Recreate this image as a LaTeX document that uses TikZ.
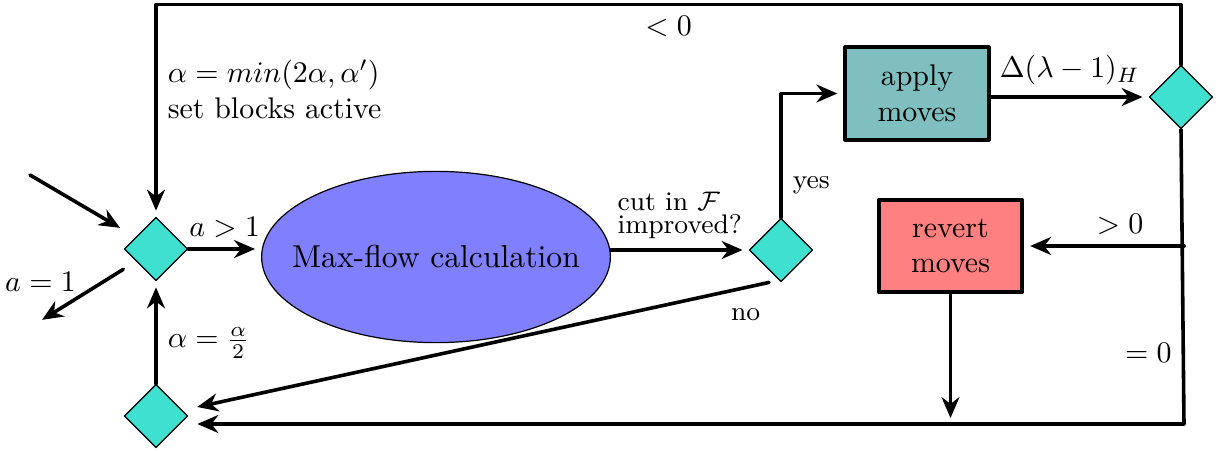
\documentclass[tikz,border=0pt]{standalone}
\usetikzlibrary{shapes.geometric,arrows.meta,calc}
\definecolor{turq}{RGB}{64,224,208}
\begin{document}
\begin{tikzpicture}[x=1.176mm, y=1.176mm, line join=round, line cap=round, >={Stealth[length=7pt,width=6pt]},
	flow/.style={->, line width=1.2pt, shorten >=2pt},
	decision/.style={diamond, draw, thin, fill=turq, inner sep=0pt, minimum size=21.3pt},
	calcnode/.style={ellipse, draw, thin, fill=blue!50, minimum width=116.7pt, minimum height=57.3pt},
	movebox/.style={rectangle, draw, line width=1.3pt, align=center, minimum width=48pt, minimum height=31pt}]
	\useasboundingbox (0,0) rectangle (122.5,45);
	\node[decision] (A) at (15.6,20.1) {};
	\node[decision] (B) at (15.6,3.4) {};
	\node[decision] (C) at (78.1,20.0) {};
	\node[decision] (D) at (118.1,35.3) {};
	\node[calcnode, label={[name=Mtext, font=\fontsize{10.6}{13}\selectfont]center:Max-flow calculation}] (M) at (43.6,19.3) {};
	\node[movebox, fill=teal!50] (apply) at (91.7,35.65) {apply\\moves};
	\node[movebox, fill=red!50] (revert) at (95.05,20.4) {revert\\moves};
	\coordinate (in) at (3.0,27.5);
	\coordinate (out) at (3.7,12.7);
	\coordinate (corner) at (118.4,2.6);
	\draw[flow, shorten >=6pt] (in) -- (A);
	\draw[flow, shorten <=5pt] (A) -- (out) node[pos=0.62, above left, inner sep=2pt, xshift=3pt] (aone) {$a=1$};
	\draw[flow] (A.east) -- (A.east -| M.west) node[midway, above] (agt) {$a>1$};
	\draw[flow] (D.north) -- ++(0,6) -| (A.north) node[pos=0.25, below] (neg) {$<0$}
		node[pos=0.7, right, align=left] (reset) {$\alpha=min(2\alpha,\alpha')$\\set blocks active};
	\draw[flow] (C -| M.east) -- (C.west) node[midway, above, align=left, font=\small] (cut) {cut in $\mathcal{F}$\\[-3.5pt]improved?};
	\draw[flow] (C.north) |- (apply.west) node[pos=0.13, right, font=\small] (yes) {yes};
	\draw[flow] (apply.east |- D.west) -- (D.west) node[midway, above] (delta) {$\Delta(\lambda-1)_H$};
	\draw[flow, shorten >=3pt] (D.south) -- (corner) node[pos=0.76, left] (zero) {$=0$} -- (corner -| B.east);
	\draw[flow] (corner |- revert.east) -- (revert.east) node[pos=0.4, above] (posi) {$>0$};
	\draw[flow] (revert.south) -- (revert.south |- corner);
	\draw[flow, shorten >=5pt] ([xshift=-4pt]C.south) -- (B) node[pos=0.04, below=3pt, font=\small] (no) {no};
	\draw[flow] (B.north) -- (A.south) node[pos=0.4, right] (half) {$\alpha=\frac{\alpha}{2}$};
\end{tikzpicture}
\end{document}
